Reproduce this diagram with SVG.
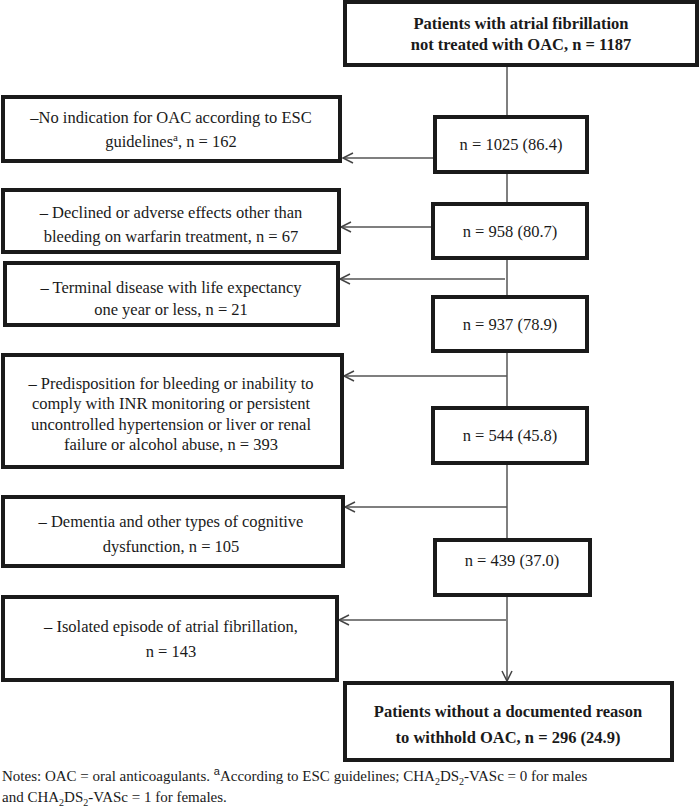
<svg xmlns="http://www.w3.org/2000/svg" width="700" height="811" viewBox="0 0 700 811">
<defs>
<style>
.box{fill:#fff;stroke:#1a1a1a;stroke-width:4}
.t{font-size:16.5px;fill:#1a1a1a;text-anchor:middle}
.b{font-weight:bold}
.n{font-size:15px;fill:#1a1a1a}
.c{fill:none;stroke:#555;stroke-width:1.5}
.h{fill:none;stroke:#444;stroke-width:1.5}
</style>
</defs>
<rect width="700" height="811" fill="#fff"/>
<g id="connectors">
<line class="c" x1="507" y1="65" x2="507" y2="117"/>
<line class="c" x1="507" y1="172" x2="507" y2="204"/>
<line class="c" x1="507" y1="258" x2="507" y2="297"/>
<line class="c" x1="507" y1="351" x2="507" y2="408"/>
<line class="c" x1="507" y1="463" x2="507" y2="540"/>
<line class="c" x1="507" y1="595" x2="507" y2="681"/>
<polyline class="h" points="502,671 507,681 512,671"/>
<line class="c" x1="435" y1="158" x2="343" y2="158"/>
<polyline class="h" points="353,153 343,158 353,163"/>
<line class="c" x1="433" y1="227" x2="341" y2="227"/>
<polyline class="h" points="351,222 341,227 351,232"/>
<line class="c" x1="505" y1="279" x2="340" y2="279"/>
<polyline class="h" points="350,274 340,279 350,284"/>
<line class="c" x1="507" y1="376" x2="344" y2="376"/>
<polyline class="h" points="354,371 344,376 354,381"/>
<line class="c" x1="507" y1="507" x2="345" y2="507"/>
<polyline class="h" points="355,502 345,507 355,512"/>
<line class="c" x1="506" y1="620" x2="339" y2="620"/>
<polyline class="h" points="349,615 339,620 349,625"/>
</g>
<g font-family="Liberation Serif, Times New Roman, serif">
<g id="start">
<rect class="box" x="345" y="2" width="352" height="63"/>
<text class="t b" x="521" y="29">Patients with atrial fibrillation</text>
<text class="t b" x="521" y="50">not treated with OAC, n = 1187</text>
</g>
<g id="n1025">
<rect class="box" x="435" y="117" width="152" height="55"/>
<text class="t" x="511" y="150">n = 1025 (86.4)</text>
</g>
<g id="n958">
<rect class="box" x="433" y="204" width="154" height="54"/>
<text class="t" x="510" y="237">n = 958 (80.7)</text>
</g>
<g id="n937">
<rect class="box" x="433" y="297" width="154" height="54"/>
<text class="t" x="510" y="330">n = 937 (78.9)</text>
</g>
<g id="n544">
<rect class="box" x="433" y="408" width="154" height="55"/>
<text class="t" x="510" y="441">n = 544 (45.8)</text>
</g>
<g id="n439">
<rect class="box" x="435" y="540" width="155" height="55"/>
<text class="t" x="512" y="566">n = 439 (37.0)</text>
</g>
<g id="end">
<rect class="box" x="345" y="683" width="327" height="77"/>
<text class="t b" x="508" y="717">Patients without a documented reason</text>
<text class="t b" x="508" y="743">to withhold OAC, n = 296 (24.9)</text>
</g>
<g id="ex1">
<rect class="box" x="3" y="97" width="337" height="64"/>
<text class="t" x="171" y="123">–No indication for OAC according to ESC</text>
<text class="t" x="171" y="147">guidelines<tspan font-size="11" dy="-6">a</tspan><tspan dy="6">, n = 162</tspan></text>
</g>
<g id="ex2">
<rect class="box" x="3" y="190" width="336" height="62"/>
<text class="t" x="171" y="218">– Declined or adverse effects other than</text>
<text class="t" x="171" y="242">bleeding on warfarin treatment, n = 67</text>
</g>
<g id="ex3">
<rect class="box" x="5" y="263" width="333" height="62"/>
<text class="t" x="171" y="293">– Terminal disease with life expectancy</text>
<text class="t" x="171" y="315">one year or less, n = 21</text>
</g>
<g id="ex4">
<rect class="box" x="3" y="355" width="339" height="112"/>
<text class="t" x="171" y="389">– Predisposition for bleeding or inability to</text>
<text class="t" x="171" y="409">comply with INR monitoring or persistent</text>
<text class="t" x="171" y="430">uncontrolled hypertension or liver or renal</text>
<text class="t" x="171" y="450">failure or alcohol abuse, n = 393</text>
</g>
<g id="ex5">
<rect class="box" x="3" y="497" width="340" height="69"/>
<text class="t" x="171" y="527">– Dementia and other types of cognitive</text>
<text class="t" x="171" y="552">dysfunction, n = 105</text>
</g>
<g id="ex6">
<rect class="box" x="3" y="597" width="334" height="83"/>
<text class="t" x="171" y="632">– Isolated episode of atrial fibrillation,</text>
<text class="t" x="171" y="657">n = 143</text>
</g>
<g id="notes">
<text class="n" x="2" y="781">Notes: OAC = oral anticoagulants. <tspan font-size="11" dy="-6" font-family="Liberation Sans, sans-serif">a</tspan><tspan dy="6">According to ESC guidelines; CHA</tspan><tspan font-size="10" dy="4">2</tspan><tspan dy="-4">DS</tspan><tspan font-size="10" dy="4">2</tspan><tspan dy="-4">-VASc = 0 for males</tspan></text>
<text class="n" x="2" y="802">and CHA<tspan font-size="10" dy="4">2</tspan><tspan dy="-4">DS</tspan><tspan font-size="10" dy="4">2</tspan><tspan dy="-4">-VASc = 1 for females.</tspan></text>
</g>
</g>
</svg>
